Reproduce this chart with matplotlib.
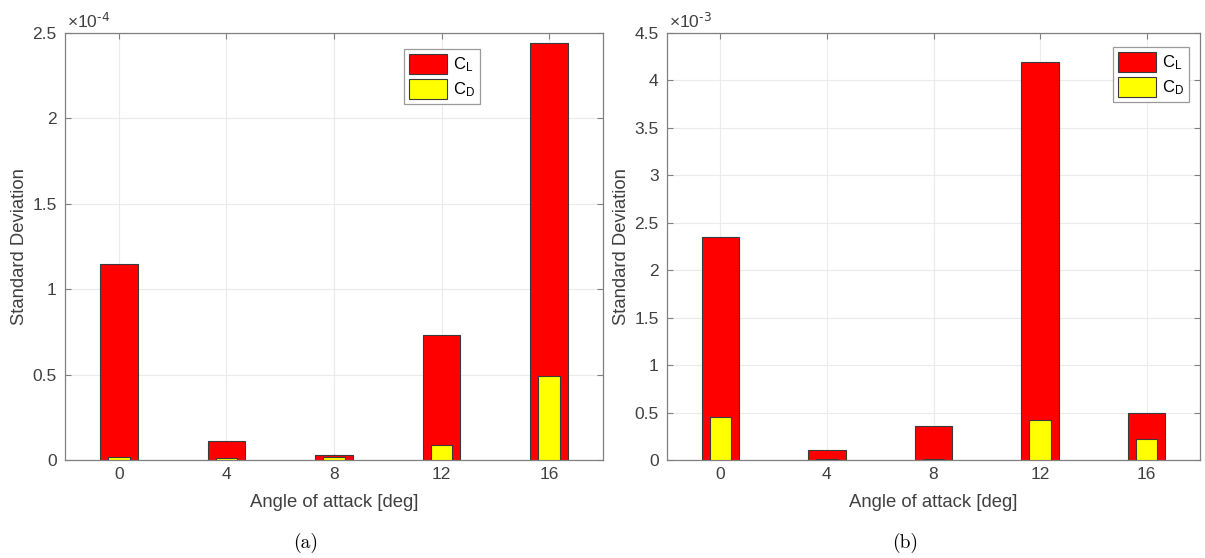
import matplotlib.pyplot as plt

plt.rcParams['font.family'] = ['Liberation Sans', 'DejaVu Sans']
plt.rcParams['mathtext.default'] = 'regular'

angles = [0, 4, 8, 12, 16]

# (a) values in units of 1e-4
cl_a = [1.15, 0.11, 0.03, 0.73, 2.44]
cd_a = [0.02, 0.01, 0.015, 0.09, 0.49]

# (b) values in units of 1e-3
cl_b = [2.35, 0.11, 0.36, 4.19, 0.50]
cd_b = [0.455, 0.01, 0.015, 0.42, 0.22]

yticks_a = [0, 0.5, 1, 1.5, 2, 2.5]
yticks_b = [0, 0.5, 1, 1.5, 2, 2.5, 3, 3.5, 4, 4.5]

txt = '#404040'
edge = '#3a3a3a'

fig = plt.figure(figsize=(12.05, 5.58), dpi=100)
ax1 = fig.add_axes([0.0539, 0.1756, 0.4465, 0.7653])
ax2 = fig.add_axes([0.5535, 0.1756, 0.4424, 0.7653])


def draw(ax, cl, cd, yticks, ymax, expo, leg_anchor, tag):
    ax.bar(angles, cl, width=1.4, color='#ff0000', edgecolor=edge,
           linewidth=0.8, label=r'C$_L$', zorder=2)
    ax.bar(angles, cd, width=0.8, color='#ffff00', edgecolor=edge,
           linewidth=0.8, label=r'C$_D$', zorder=3)
    ax.set_xlim(-2, 18)
    ax.set_ylim(0, ymax)
    ax.set_xticks(angles)
    ax.set_yticks(yticks)
    ax.set_yticklabels([f'{v:g}' for v in yticks])
    ax.grid(True, color='#ebebeb', linewidth=0.8, zorder=0)
    ax.set_axisbelow(True)
    for s in ax.spines.values():
        s.set_color('#808080')
        s.set_linewidth(0.9)
    ax.tick_params(direction='in', top=True, right=True, length=4,
                   color='#808080', labelcolor=txt, labelsize=12.5)
    ax.tick_params(axis='x', pad=5)
    ax.tick_params(axis='y', pad=6)
    ax.set_xlabel('Angle of attack [deg]', fontsize=13.3, color=txt, labelpad=9)
    ax.set_ylabel('Standard Deviation', fontsize=13.3, color=txt, labelpad=3)
    ax.text(0.003, 1.005, r'$\times$10$^{\text{%d}}$' % expo,
            transform=ax.transAxes, fontsize=12.5, color=txt,
            ha='left', va='bottom')
    leg = ax.legend(loc='upper right', bbox_to_anchor=leg_anchor,
                    fontsize=12, handlelength=2.3, handleheight=1.45,
                    handletextpad=0.35, labelspacing=0.3, borderpad=0.3,
                    fancybox=False, framealpha=1, edgecolor='#9a9a9a',
                    borderaxespad=0)
    leg.get_frame().set_linewidth(0.9)
    ax.text(0.447, -0.195, tag, transform=ax.transAxes, fontsize=14,
            family='cmr10', ha='center', va='center', color='black')


draw(ax1, cl_a, cd_a, yticks_a, 2.5, -4, (0.771, 0.963), '(a)')
draw(ax2, cl_b, cd_b, yticks_b, 4.5, -3, (0.979, 0.967), '(b)')

fig.savefig('out.png', dpi=100)
